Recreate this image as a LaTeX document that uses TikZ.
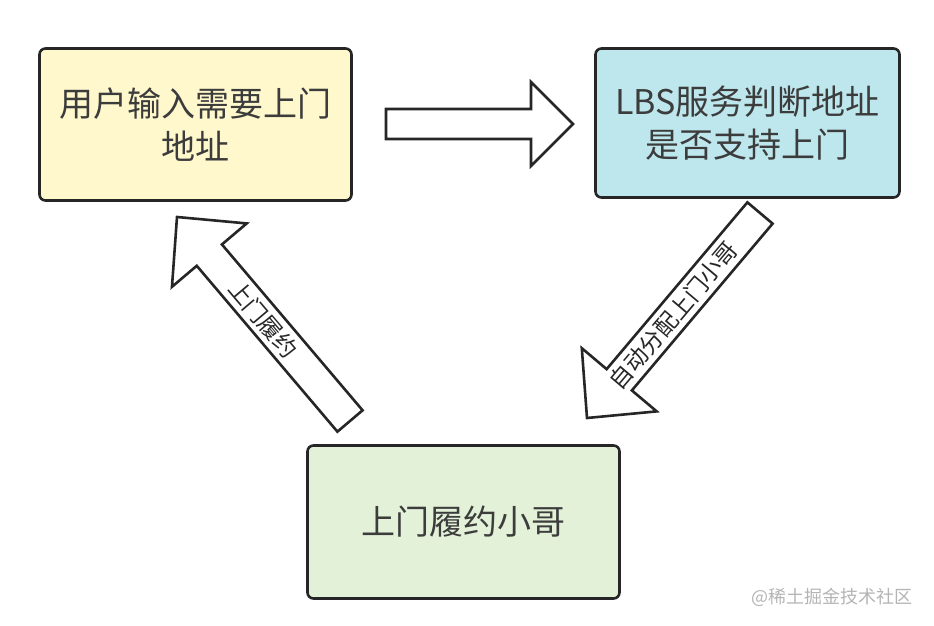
\documentclass[tikz,border=0pt]{standalone}
\usepackage{fontspec}
\setmainfont{Noto Sans CJK SC}
\usetikzlibrary{calc}

\definecolor{boxline}{HTML}{262626}
\definecolor{useryellow}{HTML}{FFF8CC}
\definecolor{lbsblue}{HTML}{BDE7ED}
\definecolor{ridergreen}{HTML}{E3F1D9}
\definecolor{markgray}{HTML}{B4B4B4}

% hollow block arrow: tail, tip, half shaft, half head, head length
\newcommand{\bigarrow}[5]{%
  \coordinate (hb) at ($(#2)!#5!(#1)$);
  \draw[blockarrow] ($(#1)!#3!-90:(#2)$) -- ($(hb)!#3!-90:(#2)$) -- ($(hb)!#4!-90:(#2)$)
    -- (#2) -- ($(hb)!#4!90:(#2)$) -- ($(hb)!#3!90:(#2)$) -- ($(#1)!#3!90:(#2)$) -- cycle;
}

\begin{document}
\begin{tikzpicture}[x=1pt, y=1pt,
    stepbox/.style={draw=boxline, line width=2.6pt, rounded corners=6pt, align=center,
      font=\fontsize{34}{43}\selectfont, text=boxline!90, inner sep=0pt},
    blockarrow/.style={draw=boxline, line width=2.6pt, fill=white, line join=miter},
    arrowlabel/.style={font=\fontsize{23}{23}\selectfont, text=boxline, inner sep=0pt}]
  \useasboundingbox (0,0) rectangle (934,626);

  \node[stepbox, fill=useryellow, minimum width=312pt, minimum height=152pt] (input) at (195.5,501.5) {用户输入需要上门\\地址};
  \node[stepbox, fill=lbsblue, minimum width=304pt, minimum height=149pt] (lbs) at (747.5,503) {LBS服务判断地址\\是否支持上门};
  \node[stepbox, fill=ridergreen, minimum width=312pt, minimum height=153pt] (rider) at (463.5,104) {上门履约小哥};

  \coordinate (sendT) at (386,502);
  \coordinate (sendH) at (573,502);
  \coordinate (assignT) at (760,413);
  \coordinate (assignH) at (587,208);
  \coordinate (serveT) at (350,205);
  \coordinate (serveH) at (177,409);

  \bigarrow{sendT}{sendH}{15pt}{42pt}{42pt}
  \bigarrow{assignT}{assignH}{16.5pt}{49pt}{50pt}
  \bigarrow{serveT}{serveH}{16.5pt}{49pt}{50pt}

  \node[arrowlabel, rotate=49.8] (assignlbl) at ($(assignT)!0.5!(assignH)$) {自动分配上门小哥};
  \node[arrowlabel, rotate=-49.7] (servelbl) at ($(serveT)!0.5!(serveH)$) {上门履约};

  \node[font=\fontsize{18}{18}\selectfont, text=markgray] (mark) at (832,29) {@稀土掘金技术社区};
\end{tikzpicture}
\end{document}
